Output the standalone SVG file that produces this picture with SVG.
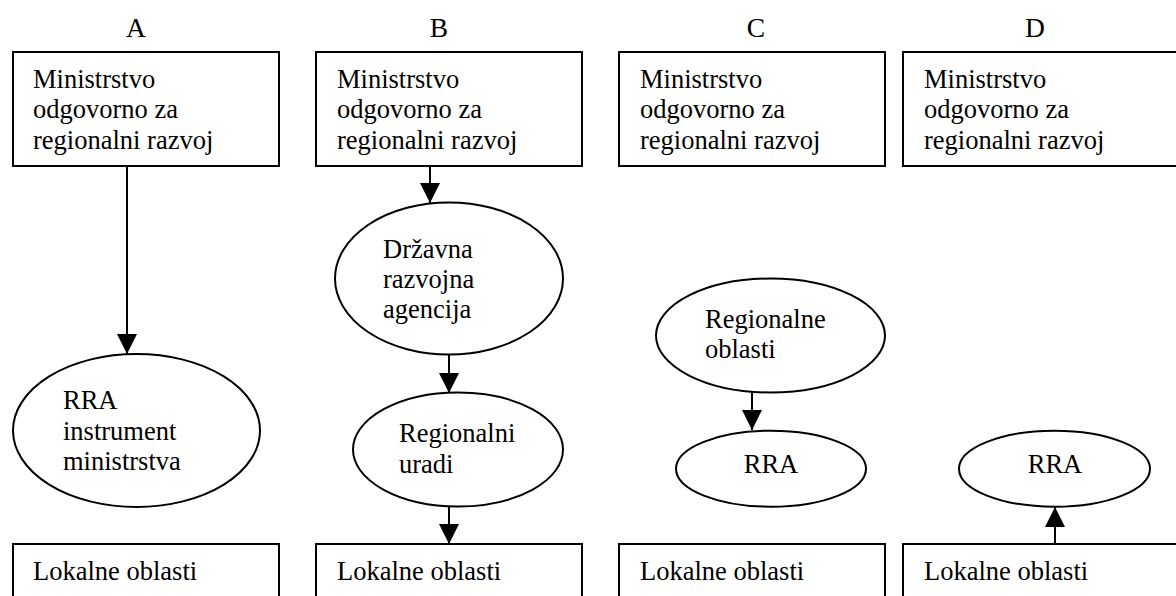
<svg xmlns="http://www.w3.org/2000/svg" width="1176" height="596" viewBox="0 0 1176 596">
  <style>
    .box { fill: #ffffff; stroke: #000000; stroke-width: 2; }
    .oval { fill: #ffffff; stroke: #000000; stroke-width: 2; }
    .txt { font-family: "Liberation Serif", "Times New Roman", serif; font-size: 26.5px; fill: #000000; }
    .head { font-family: "Liberation Serif", "Times New Roman", serif; font-size: 27.5px; fill: #000000; text-anchor: middle; }
    .edge { stroke: #000000; stroke-width: 2; fill: none; marker-end: url(#arrow); }
  </style>
  <defs>
    <marker id="arrow" viewBox="0 0 20 20" refX="20" refY="10" markerWidth="20" markerHeight="20" markerUnits="userSpaceOnUse" orient="auto">
      <path d="M0,0 L20,10 L0,20 Z" fill="#000000"/>
    </marker>
  </defs>
  <rect width="1176" height="596" fill="#ffffff"/>

  <!-- column headings -->
  <g id="headings">
    <text class="head" x="136" y="37">A</text>
    <text class="head" x="439" y="37">B</text>
    <text class="head" x="756" y="37">C</text>
    <text class="head" x="1035" y="37">D</text>
  </g>

  <!-- column A -->
  <g id="a-ministry">
    <rect class="box" x="13" y="52" width="266" height="114"/>
    <text class="txt" x="33" y="87.5">Ministrstvo</text>
    <text class="txt" x="33" y="118">odgovorno za</text>
    <text class="txt" x="33" y="148.5">regionalni razvoj</text>
  </g>
  <g id="a-rra">
    <ellipse class="oval" cx="136.5" cy="430.5" rx="123.5" ry="76.5"/>
    <text class="txt" x="63" y="409">RRA</text>
    <text class="txt" x="63" y="439.5">instrument</text>
    <text class="txt" x="63" y="470">ministrstva</text>
  </g>
  <g id="a-local">
    <rect class="box" x="13" y="544" width="266" height="60"/>
    <text class="txt" x="33" y="579.5">Lokalne oblasti</text>
  </g>

  <!-- column B -->
  <g id="b-ministry">
    <rect class="box" x="316" y="52" width="266" height="114"/>
    <text class="txt" x="337" y="87.5">Ministrstvo</text>
    <text class="txt" x="337" y="118">odgovorno za</text>
    <text class="txt" x="337" y="148.5">regionalni razvoj</text>
  </g>
  <g id="b-agency">
    <ellipse class="oval" cx="449" cy="278.5" rx="114" ry="76"/>
    <text class="txt" x="383" y="258">Državna</text>
    <text class="txt" x="383" y="288">razvojna</text>
    <text class="txt" x="383" y="318">agencija</text>
  </g>
  <g id="b-offices">
    <ellipse class="oval" cx="458" cy="449.5" rx="105" ry="57"/>
    <text class="txt" x="399" y="441.5">Regionalni</text>
    <text class="txt" x="399" y="472.5">uradi</text>
  </g>
  <g id="b-local">
    <rect class="box" x="316" y="544" width="266" height="60"/>
    <text class="txt" x="337" y="579.5">Lokalne oblasti</text>
  </g>

  <!-- column C -->
  <g id="c-ministry">
    <rect class="box" x="619" y="52" width="266" height="114"/>
    <text class="txt" x="640" y="87.5">Ministrstvo</text>
    <text class="txt" x="640" y="118">odgovorno za</text>
    <text class="txt" x="640" y="148.5">regionalni razvoj</text>
  </g>
  <g id="c-regions">
    <ellipse class="oval" cx="770.5" cy="335.5" rx="114.5" ry="57"/>
    <text class="txt" x="705" y="328">Regionalne</text>
    <text class="txt" x="705" y="358">oblasti</text>
  </g>
  <g id="c-rra">
    <ellipse class="oval" cx="771" cy="468.7" rx="95" ry="38"/>
    <text class="txt" x="771" y="473" text-anchor="middle">RRA</text>
  </g>
  <g id="c-local">
    <rect class="box" x="619" y="544" width="266" height="60"/>
    <text class="txt" x="640" y="579.5">Lokalne oblasti</text>
  </g>

  <!-- column D -->
  <g id="d-ministry">
    <rect class="box" x="903" y="52" width="280" height="114"/>
    <text class="txt" x="924" y="87.5">Ministrstvo</text>
    <text class="txt" x="924" y="118">odgovorno za</text>
    <text class="txt" x="924" y="148.5">regionalni razvoj</text>
  </g>
  <g id="d-rra">
    <ellipse class="oval" cx="1054.5" cy="468.7" rx="95.5" ry="38"/>
    <text class="txt" x="1055" y="473" text-anchor="middle">RRA</text>
  </g>
  <g id="d-local">
    <rect class="box" x="903" y="544" width="280" height="60"/>
    <text class="txt" x="924" y="579.5">Lokalne oblasti</text>
  </g>

  <!-- connectors -->
  <g id="connectors">
    <line class="edge" x1="127" y1="166" x2="127" y2="354"/>
    <line class="edge" x1="430" y1="166" x2="430" y2="203"/>
    <line class="edge" x1="449" y1="354" x2="449" y2="393"/>
    <line class="edge" x1="449" y1="506" x2="449" y2="544"/>
    <line class="edge" x1="752" y1="392.5" x2="752" y2="430"/>
    <line class="edge" x1="1055" y1="544" x2="1055" y2="507"/>
  </g>
</svg>
